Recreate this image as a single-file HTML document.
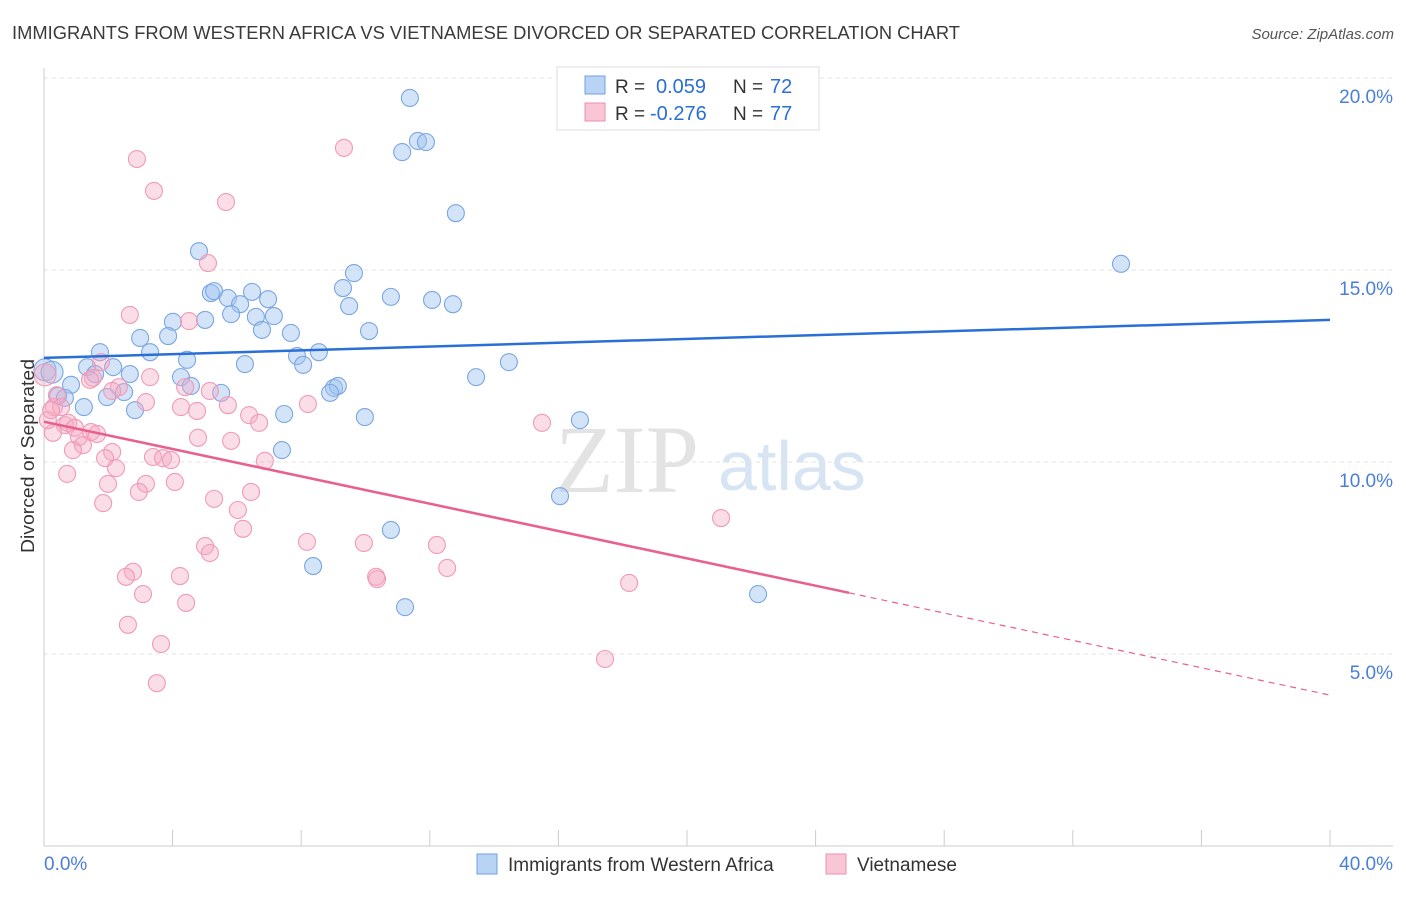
<!DOCTYPE html>
<html><head><meta charset="utf-8"><style>
body{margin:0;background:#fff;font-family:"Liberation Sans",sans-serif;}
</style></head><body>
<svg id="chart" width="1406" height="892" xmlns="http://www.w3.org/2000/svg" font-family="Liberation Sans, sans-serif">
<text x="12" y="39" font-size="18" fill="#3a3a3a" textLength="948" lengthAdjust="spacingAndGlyphs">IMMIGRANTS FROM WESTERN AFRICA VS VIETNAMESE DIVORCED OR SEPARATED CORRELATION CHART</text>
<text x="1394" y="39" font-size="15" fill="#555" text-anchor="end" font-style="italic">Source: ZipAtlas.com</text>
<g>
<text x="555" y="492" font-size="96" fill="#d8d8d8" font-family="Liberation Serif, serif" opacity="0.7">ZIP</text>
<text x="718" y="490" font-size="70" fill="#bcd3ee" opacity="0.6">atlas</text>
</g>
<g id="grid"></g><g id="axes"></g><g id="marks"></g><g id="lines"></g>
<text transform="translate(34,456) rotate(-90)" font-size="18" fill="#333" text-anchor="middle" textLength="194" lengthAdjust="spacingAndGlyphs">Divorced or Separated</text>
<g>
<rect x="557" y="67" width="262" height="63" fill="#fff" stroke="#ddd"/>
<rect x="585" y="76" width="20" height="18" fill="#b9d3f5" stroke="#6f9fe0"/>
<text x="615" y="93" font-size="19" fill="#333">R = </text><text x="656" y="93" font-size="20" fill="#2a6fd6">0.059</text>
<text x="733" y="93" font-size="19" fill="#333">N = </text><text x="770" y="93" font-size="20" fill="#2a6fd6">72</text>
<rect x="585" y="103" width="20" height="18" fill="#f9c6d6" stroke="#ee8fb0"/>
<text x="615" y="120" font-size="19" fill="#333">R = </text><text x="650" y="120" font-size="20" fill="#2a6fd6">-0.276</text>
<text x="733" y="120" font-size="19" fill="#333">N = </text><text x="770" y="120" font-size="20" fill="#2a6fd6">77</text>
</g>
<g>
<rect x="477" y="854" width="20" height="20" fill="#b9d3f5" stroke="#6f9fe0"/>
<text x="508" y="871" font-size="19" fill="#333">Immigrants from Western Africa</text>
<rect x="826" y="854" width="20" height="20" fill="#f9c6d6" stroke="#ee8fb0"/>
<text x="857" y="871" font-size="19" fill="#333">Vietnamese</text>
</g>
</svg>
<script>
const xTicks=[0,4,8,12,16,20,24,28,32,36,40];
const yTicks=[5,10,15,20];
const yTickLabels=["5.0%","10.0%","15.0%","20.0%"];
const xEndLabels=["0.0%","40.0%"];
const blueX=[11.38,11.63,11.88,11.14,12.81,33.50,4.82,9.64,9.30,5.19,5.29,6.47,6.97,5.72,10.79,12.07,12.72,6.10,9.49,5.82,6.59,7.15,5.01,4.01,6.78,7.68,10.11,2.99,3.86,3.30,1.74,8.55,7.87,4.45,6.25,8.06,14.46,2.15,1.34,0.03,0.25,2.67,1.59,4.26,13.44,0.84,4.57,9.02,9.14,2.49,8.90,0.44,5.51,1.96,0.65,1.24,2.83,9.98,7.47,16.67,7.40,16.05,10.79,8.37,11.23,22.21];
const blueY=[19.48,18.36,18.33,18.07,16.48,15.16,15.49,14.92,14.53,14.40,14.45,14.43,14.24,14.27,14.30,14.22,14.11,14.11,14.06,13.85,13.78,13.80,13.70,13.65,13.44,13.36,13.41,13.23,13.28,12.86,12.86,12.86,12.76,12.66,12.55,12.53,12.60,12.47,12.47,12.40,12.34,12.29,12.29,12.21,12.21,12.01,11.98,11.93,11.98,11.82,11.80,11.72,11.80,11.69,11.67,11.43,11.35,11.17,11.25,11.09,10.31,9.11,8.23,7.29,6.22,6.56];
const pinkX=[9.33,2.89,3.42,5.66,5.10,2.67,4.51,1.77,3.30,1.52,2.33,4.39,2.12,5.16,0.40,3.17,0.31,8.21,0.53,4.26,4.76,6.38,5.72,6.69,0.65,0.75,0.96,15.49,1.46,1.65,1.09,0.28,4.79,5.82,1.21,0.90,2.12,1.90,3.39,3.70,3.95,6.87,0.72,2.24,3.17,4.07,1.99,2.95,6.44,5.29,1.84,6.03,6.19,5.01,5.16,8.18,9.95,12.22,12.54,2.77,2.55,4.23,10.33,10.36,18.20,3.08,4.42,21.06,2.61,3.64,17.45,3.51,0.03,0.12,0.22,1.43];
const pinkY=[18.18,17.89,17.06,16.77,15.18,13.83,13.67,12.60,12.21,12.19,11.95,11.95,11.85,11.85,11.74,11.56,11.43,11.51,11.43,11.43,11.33,11.22,11.48,11.02,10.96,11.02,10.89,11.02,10.78,10.73,10.65,10.76,10.63,10.55,10.44,10.31,10.26,10.10,10.13,10.10,10.05,10.03,9.69,9.84,9.43,9.48,9.43,9.22,9.22,9.04,8.93,8.75,8.26,7.81,7.63,7.92,7.89,7.84,7.24,7.14,7.01,7.03,7.01,6.95,6.85,6.56,6.33,8.54,5.76,5.26,4.87,4.24,12.27,11.09,11.35,12.14];
const blueLine=[12.71,13.70];
const pinkLine=[11.05,-0.178];
const pinkSolidEnd=25.04;
const NS="http://www.w3.org/2000/svg";
const X0=44,X1=1330,Y0=846,Y20=78;
const sx=v=>X0+(v/40)*(X1-X0);
const sy=v=>Y0-(v/20)*(Y0-Y20);
function mk(tag,attrs,parent,text){const e=document.createElementNS(NS,tag);for(const k in attrs)e.setAttribute(k,attrs[k]);if(text!==undefined)e.textContent=text;document.getElementById(parent).appendChild(e);return e;}
yTicks.forEach((t,i)=>{
 const g=mk('line',{x1:X0,x2:1393,y1:sy(t),y2:sy(t),stroke:'#e3e3e3','stroke-dasharray':'4,4'},'grid');
 
 
 const l=mk('text',{x:1393,y:sy(t)+25,'font-size':19,fill:'#4a7fd8','text-anchor':'end'},'axes',yTickLabels[i]);
 
 
});
const ax=mk('line',{x1:X0,x2:1393,y1:Y0,y2:Y0,stroke:'#ccc'},'axes');


const ay=mk('line',{x1:X0,x2:X0,y1:68,y2:Y0,stroke:'#ccc'},'axes');


xTicks.forEach(t=>{
 const k=mk('line',{x1:sx(t),x2:sx(t),y1:Y0-16,y2:Y0,stroke:'#ccc'},'axes');
 
 
});
const xl0=mk('text',{x:44,y:870,'font-size':19,fill:'#4a7fd8'},'axes',xEndLabels[0]);


const xl1=mk('text',{x:1393,y:870,'font-size':19,fill:'#4a7fd8','text-anchor':'end'},'axes',xEndLabels[1]);


function dots(xs,ys,fill,stroke,name){xs.forEach((x,i)=>{
 const r=(x<0.3&&ys[i]>12)?11:8.5;
 const c=mk('circle',{cx:sx(x),cy:sy(ys[i]),r:r,fill:fill,stroke:stroke,'stroke-width':1.1},'marks');
 
 
});}
dots(blueX,blueY,'rgba(160,196,240,0.45)','#7aa6e2','blue-point');
dots(pinkX,pinkY,'rgba(244,170,195,0.4)','#f09ab8','pink-point');
const bl=mk('line',{x1:sx(0),y1:sy(blueLine[0]),x2:sx(40),y2:sy(blueLine[1]),stroke:'#2a6fd6','stroke-width':2.5},'lines');


const pf=x=>pinkLine[0]+pinkLine[1]*x;
const pl=mk('line',{x1:sx(0),y1:sy(pf(0)),x2:sx(pinkSolidEnd),y2:sy(pf(pinkSolidEnd)),stroke:'#e8608f','stroke-width':2.5},'lines');


const pd=mk('line',{x1:sx(pinkSolidEnd),y1:sy(pf(pinkSolidEnd)),x2:sx(40),y2:sy(pf(40)),stroke:'#e8608f','stroke-width':1.2,'stroke-dasharray':'6,5'},'lines');


</script>
</body></html>
